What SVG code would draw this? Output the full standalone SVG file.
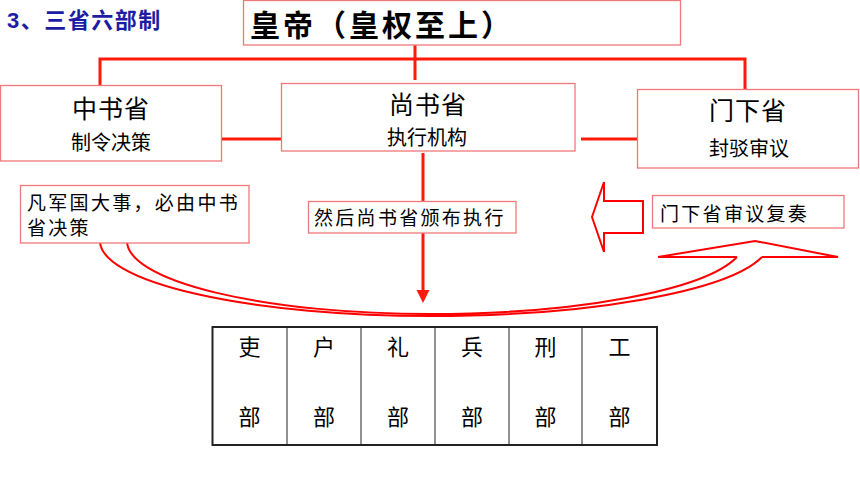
<svg xmlns="http://www.w3.org/2000/svg" width="860" height="482" viewBox="0 0 860 482">
<style>
  .cjk { font-family: "Noto Sans CJK SC", "Noto Sans", sans-serif; fill: #000; }
  .box { fill: #fff; stroke: #f07878; stroke-width: 1.3; }
  .lbl { font-size: 19px; letter-spacing: 2.3px; }
  .big { font-size: 25px; text-anchor: middle; letter-spacing: 1px; }
  .sub { font-size: 20px; text-anchor: middle; }
  .red { stroke: #ff1a0a; stroke-width: 3; fill: none; }
  .band { stroke: #ff0000; stroke-width: 2; fill: none; }
  .cell { font-size: 22px; text-anchor: middle; }
</style>
<rect width="860" height="482" fill="#fff"/>
<text x="7" y="28" font-family="Liberation Sans, Noto Sans CJK SC, sans-serif" font-weight="bold" font-size="22" letter-spacing="1.5" fill="#1c1ca4">3、三省六部制</text>

<g id="connectors">
  <path class="red" d="M415,45 V80 M100,85 V59 H745 V90"/>
  <path class="red" d="M221,139 H286 M581,139 H637"/>
  <path class="red" d="M423,153 V292"/>
  <polygon points="416.5,290 429.5,290 423,303" fill="#ff1a0a"/>
  <path class="band" d="M100,241 H127 M100,241 A330,75 0 0 0 430,316 A340,75 0 0 0 762,257 M127,241 A303,73 0 0 0 430,314 A315,73 0 0 0 737,257"/>
  <path class="band" d="M737,257 H658 L755,241 L838,257 H762" stroke-linejoin="miter"/>
  <polygon class="band" fill="#fff" points="592,217 604,182 604,201 643,201 643,233 604,233 604,252"/>
</g>

<g id="emperor">
  <rect class="box" x="243.5" y="0.5" width="437" height="44.5" stroke="#f09090"/>
  <text class="cjk" x="250" y="36" font-size="30" font-weight="bold" letter-spacing="3">皇帝（皇权至上）</text>
</g>

<g id="zhongshu">
  <rect class="box" x="0.5" y="85.5" width="221" height="75.5" stroke="#e86060"/>
  <text class="cjk big" x="111" y="118">中书省</text>
  <text class="cjk sub" x="111" y="150">制令决策</text>
</g>

<g id="shangshu">
  <rect class="box" x="281.5" y="83.5" width="293.5" height="67.5" stroke="#f6a8a8" stroke-width="2"/>
  <text class="cjk big" x="428" y="114">尚书省</text>
  <text class="cjk sub" x="427" y="145">执行机构</text>
</g>

<g id="menxia">
  <rect class="box" x="637.5" y="89.5" width="221" height="78.5" stroke="#f08888"/>
  <text class="cjk big" x="748" y="120">门下省</text>
  <text class="cjk sub" x="749" y="156">封驳审议</text>
</g>

<g id="note-zhongshu">
  <rect class="box" x="20.5" y="185.5" width="228.5" height="57.5"/>
  <text class="cjk lbl" x="27" y="210">凡军国大事，必由中书</text>
  <text class="cjk lbl" x="27" y="235">省决策</text>
</g>

<g id="note-shangshu">
  <rect class="box" x="308.5" y="201.5" width="207.5" height="31.5"/>
  <text class="cjk lbl" x="314" y="225">然后尚书省颁布执行</text>
</g>

<g id="note-menxia">
  <rect class="box" x="652.5" y="195.5" width="191.5" height="32.5"/>
  <text class="cjk lbl" x="660" y="221">门下省审议复奏</text>
</g>

<g id="six-ministries">
  <rect x="212.5" y="327" width="444.5" height="118" fill="#fff" stroke="#222" stroke-width="2"/>
  <path d="M287,327 V445 M361,327 V445 M435,327 V445 M509,327 V445 M582,327 V445" stroke="#222" stroke-width="1"/>
  <g class="cjk cell">
    <text x="249.5" y="355">吏</text><text x="249.5" y="425">部</text>
    <text x="324" y="355">户</text><text x="324" y="425">部</text>
    <text x="398" y="355">礼</text><text x="398" y="425">部</text>
    <text x="472" y="355">兵</text><text x="472" y="425">部</text>
    <text x="545.5" y="355">刑</text><text x="545.5" y="425">部</text>
    <text x="619.5" y="355">工</text><text x="619.5" y="425">部</text>
  </g>
</g>
</svg>
